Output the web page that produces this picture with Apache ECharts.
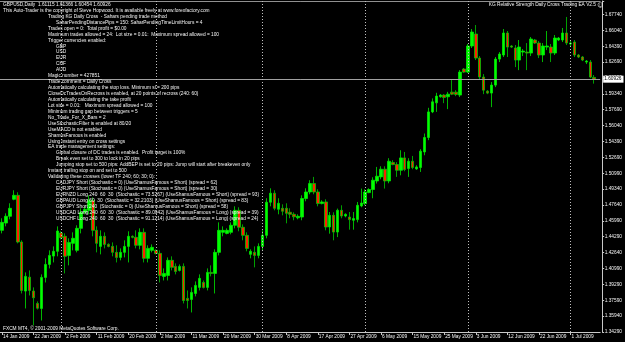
<!DOCTYPE html>
<html><head><meta charset="utf-8">
<script src="https://cdn.jsdelivr.net/npm/echarts/dist/echarts.min.js"></script>
<style>html,body{margin:0;padding:0;background:#000}#c{width:625px;height:342px}</style>
</head><body><div id="c"></div>
<script>
const symbolName = 'GBPUSD,Daily';
const firstBarDate = '2009-01-14';
const opens = [
1.4500,1.4577,1.4648,1.4827,1.4869,1.4377,1.3860,1.4007,1.3860,1.3730,
1.3677,1.4004,1.4141,1.4229,1.4279,1.4472,1.4437,1.4236,1.4363,1.4289,
1.4521,1.4690,1.4711,1.4817,1.4500,1.4331,1.4437,1.4352,1.4331,1.4268,
1.4215,1.4268,1.4331,1.4437,1.4426,1.4342,1.4479,1.4205,1.4289,1.4289,
1.4257,1.4015,1.4025,1.4184,1.4120,1.4078,1.4120,1.3783,1.3772,1.3835,
1.3899,1.3951,1.3899,1.4057,1.4046,1.4268,1.4479,1.4468,1.4479,1.4553,
1.4711,1.4532,1.4447,1.4247,1.4268,1.4236,1.4331,1.4447,1.4796,1.4891,
1.4722,1.4732,1.4732,1.4690,1.4669,1.4632,1.4640,1.4835,1.4904,1.4993,
1.4904,1.4782,1.4799,1.4535,1.4658,1.4482,1.4711,1.4651,1.4640,1.4606,
1.4613,1.4757,1.4782,1.4898,1.4930,1.5020,1.5063,1.5144,1.5020,1.5214,
1.5193,1.5133,1.5263,1.5151,1.5228,1.5147,1.5162,1.5326,1.5478,1.5748,
1.5843,1.5907,1.5925,1.5907,1.5956,1.5956,1.5925,1.6199,1.6167,1.6442,
1.6568,1.6315,1.6115,1.5967,1.5946,1.6030,1.6304,1.6347,1.6579,1.6442,
1.6421,1.6294,1.6378,1.6378,1.6368,1.6505,1.6473,1.6347,1.6431,1.6431,
1.6368,1.6505,1.6505,1.6579,1.6463,1.6484,1.6347,1.6326,1.6273,1.6273,
1.61115];
const closes = [
1.4584,1.4648,1.4732,1.4869,1.4377,1.3867,1.4015,1.3867,1.3790,1.3680,
1.4004,1.4141,1.4236,1.4279,1.4493,1.4423,1.4226,1.4373,1.4416,1.4521,
1.4690,1.4722,1.4817,1.4500,1.4363,1.4437,1.4352,1.4331,1.4268,1.4215,
1.4268,1.4331,1.4437,1.4426,1.4342,1.4479,1.4205,1.4310,1.4321,1.4257,
1.4025,1.4046,1.4184,1.4110,1.4067,1.4120,1.3761,1.3761,1.3846,1.3920,
1.3994,1.3899,1.4057,1.4046,1.4268,1.4500,1.4500,1.4500,1.4553,1.4711,
1.4532,1.4447,1.4310,1.4279,1.4236,1.4331,1.4447,1.4796,1.4891,1.4732,
1.4785,1.4701,1.4679,1.4669,1.4643,1.4648,1.4835,1.4904,1.4993,1.4904,
1.4782,1.4799,1.4535,1.4658,1.4482,1.4711,1.4651,1.4669,1.4613,1.4624,
1.4764,1.4788,1.4904,1.4930,1.5028,1.5070,1.5144,1.5020,1.5228,1.5193,
1.5133,1.5263,1.5141,1.5228,1.5162,1.5168,1.5334,1.5478,1.5748,1.5854,
1.5914,1.5925,1.5900,1.5935,1.5935,1.5932,1.6167,1.6167,1.6442,1.6589,
1.6315,1.6115,1.5977,1.5946,1.6030,1.6304,1.6357,1.6579,1.6431,1.6431,
1.6294,1.6431,1.6389,1.6368,1.6516,1.6473,1.6347,1.6442,1.6442,1.6368,
1.6526,1.6526,1.6579,1.6473,1.6473,1.6347,1.6326,1.6294,1.6283,1.6115,
1.60926];
const lows = [
1.4468,1.4542,1.4616,1.4817,1.4363,1.3835,1.3677,1.3814,1.3498,1.3666,
1.3550,1.3951,1.4099,1.4162,1.4226,1.4405,1.4046,1.4131,1.4289,1.4268,
1.4468,1.4669,1.4669,1.4437,1.4268,1.4247,1.4310,1.4321,1.4226,1.4162,
1.4184,1.4215,1.4162,1.4416,1.4310,1.4300,1.4162,1.4162,1.4268,1.4247,
1.3951,1.3972,1.3972,1.4078,1.4036,1.4067,1.3730,1.3677,1.3635,1.3804,
1.3867,1.3888,1.3867,1.4015,1.3835,1.4236,1.4437,1.4458,1.4458,1.4521,
1.4490,1.4395,1.4279,1.4205,1.4110,1.4205,1.4289,1.4416,1.4753,1.4711,
1.4669,1.4658,1.4574,1.4627,1.4606,1.4616,1.4606,1.4806,1.4880,1.4880,
1.4753,1.4774,1.4500,1.4465,1.4395,1.4429,1.4627,1.4637,1.4507,1.4507,
1.4584,1.4743,1.4764,1.4891,1.4838,1.4993,1.5038,1.4940,1.4996,1.5186,
1.5063,1.5080,1.5123,1.5063,1.5144,1.5138,1.5115,1.5291,1.5450,1.5735,
1.5748,1.5898,1.5840,1.5777,1.5925,1.5914,1.5904,1.6157,1.6157,1.6421,
1.6294,1.6093,1.5935,1.5935,1.5798,1.6009,1.6273,1.6326,1.6326,1.6421,
1.6220,1.6188,1.6336,1.6188,1.6336,1.6463,1.6315,1.6273,1.6399,1.6273,
1.6347,1.6494,1.6484,1.6452,1.6442,1.6326,1.6315,1.6283,1.6252,1.6104,
1.60454];
const highs = [
1.4627,1.4679,1.4785,1.4922,1.4901,1.4395,1.4057,1.4078,1.3899,1.3751,
1.4036,1.4205,1.4289,1.4331,1.4542,1.4490,1.4468,1.4416,1.4479,1.4553,
1.4732,1.4753,1.4869,1.4848,1.4542,1.4500,1.4479,1.4363,1.4373,1.4342,
1.4310,1.4395,1.4490,1.4447,1.4500,1.4521,1.4521,1.4342,1.4352,1.4300,
1.4289,1.4099,1.4215,1.4226,1.4152,1.4141,1.4152,1.3867,1.3899,1.3962,
1.4036,1.3972,1.4099,1.4131,1.4300,1.4584,1.4542,1.4521,1.4584,1.4753,
1.4743,1.4563,1.4479,1.4300,1.4331,1.4363,1.4500,1.4838,1.4943,1.4922,
1.4838,1.4774,1.4785,1.4732,1.4690,1.4669,1.4869,1.4943,1.5028,1.5063,
1.4933,1.4817,1.4827,1.4693,1.4690,1.4729,1.4764,1.4679,1.4693,1.4693,
1.4799,1.4940,1.4933,1.4943,1.5059,1.5168,1.5175,1.5175,1.5260,1.5239,
1.5218,1.5344,1.5326,1.5260,1.5284,1.5186,1.5355,1.5520,1.5791,1.5890,
1.5949,1.5935,1.5935,1.5959,1.6083,1.5977,1.6188,1.6210,1.6463,1.6621,
1.6663,1.6336,1.6146,1.5977,1.6062,1.6326,1.6378,1.6621,1.6600,1.6452,
1.6452,1.6505,1.6410,1.6473,1.6537,1.6516,1.6494,1.6473,1.6600,1.6463,
1.6558,1.6537,1.6632,1.6748,1.6494,1.6505,1.6357,1.6336,1.6294,1.6294,
1.61366];
const priceTickLabels = ['1.34290','1.35940','1.37590','1.39290','1.40990','1.42640','1.44290','1.45990','1.47640','1.49340','1.50990','1.52690','1.54390','1.56040','1.57690','1.59340','1.60990','1.62690','1.64390','1.66040','1.67740'];
const dateTickLabels = ['14 Jan 2009','22 Jan 2009','2 Feb 2009','11 Feb 2009','20 Feb 2009','2 Mar 2009','11 Mar 2009','20 Mar 2009','30 Mar 2009','8 Apr 2009','17 Apr 2009','27 Apr 2009','6 May 2009','15 May 2009','25 May 2009','3 Jun 2009','12 Jun 2009','22 Jun 2009','1 Jul 2009'];
const infoLines = [
 [0, 'This Auto-Trader is the copyright of Steve Hopwood. It is available freely at www.forexfactory.com'],
 [1, 'Trading KG Daily Cross  - Sahars pending trade method'],
 [2, 'SaharPendingDistancePips = 150: SaharPendingTimeLimitHours = 4'],
 [1, 'Trades open = 0:  Total profit = $0.00'],
 [1, 'Maximum trades allowed = 24:  Lot size = 0.01:  Maximum spread allowed = 100'],
 [1, 'Trigger currencies enabled:'],
 [2, 'GBP'], [2, 'USD'], [2, 'EUR'], [2, 'CHF'], [2, 'AUD'],
 [1, 'Magic number = 427851'],
 [1, 'Trade comment = Daily Cross'],
 [1, 'Automatically calculating the stop loss. Minimum sl = 200 pips'],
 [1, 'CloseDcTradesOnRecross is enabled, at 20 points of recross (240: 60)'],
 [1, 'Automatically calculating the take profit'],
 [1, 'Lot size = 0.01:   Maximum spread allowed = 100'],
 [1, 'Minimum trading gap between triggers = 5'],
 [1, 'No_Trade_For_X_Bars = 2'],
 [1, 'UseStochasticFilter is enabled at 80/20'],
 [1, 'UseMACD is not enabled'],
 [1, 'ShamusFamous is enabled'],
 [1, 'Using instant entry on cross settings'],
 [1, 'EA trade management settings:'],
 [2, 'Global closure of DC trades is enabled.  Profit target is 100%'],
 [2, 'Break even set to 300 to lock in 20 pips'],
 [2, 'Jumping stop set to 500 pips: AddBEP is set to 20 pips: Jump will start after breakeven only'],
 [1, 'Instant trailing stop on and set to 500'],
 [1, 'Validating these crosses (lower TF 240; 60; 30; 0):'],
 [2, 'CADJPY Short (Stochastic = 0) (UseShamusFamous = Short) (spread = 62)'],
 [2, 'EURJPY Short (Stochastic = 0) (UseShamusFamous = Short) (spread = 30)'],
 [2, 'EURNZD Long 240  60  30  (Stochastic = 73.5267) (UseShamusFamous = Short) (spread = 93)'],
 [2, 'GBPAUD Long 60  30  (Stochastic = 32.2103) (UseShamusFamous = Short) (spread = 83)'],
 [2, 'GBPJPY Short 240  (Stochastic = 0) (UseShamusFamous = Short) (spread = 58)'],
 [2, 'USDCAD Long 240  60  30  (Stochastic = 89.0942) (UseShamusFamous = Long) (spread = 39)'],
 [2, 'USDCHF Long 240  60  30  (Stochastic = 91.1214) (UseShamusFamous = Long) (spread = 24)']
];
const eaTitle = 'KG Relative Strength Daily Cross Trading EA V2.5';
const copyrightText = 'FXCM MT4, \u00a9 2001-2009 MetaQuotes Software Corp.';

// ---- build ----
const N = opens.length;
const dates = [];
{ const d = new Date(firstBarDate + 'T00:00:00Z');
  while (dates.length < N) { if (d.getUTCDay() !== 6) dates.push(d.toISOString().slice(0, 10)); d.setUTCDate(d.getUTCDate() + 1); } }
const cats = dates.concat(['']);
const candles = opens.map((o, i) => [o, closes[i], lows[i], highs[i]]);
const monthStarts = dates.filter((d, i) => i > 0 && d.slice(5, 7) !== dates[i - 1].slice(5, 7));
const lastO = opens[N - 1], lastH = highs[N - 1], lastL = lows[N - 1], lastC = closes[N - 1];
const p0 = parseFloat(priceTickLabels[0]);
const pStep = (parseFloat(priceTickLabels[priceTickLabels.length - 1]) - p0) / (priceTickLabels.length - 1);
const labelMax = 20.85;

const FONT = '"Liberation Sans", Arial, sans-serif';
const fs = 4.8;
const txtColor = '#f4f4f4';
const axisColor = '#c8c8c8';
const indentX = [3, 48, 56];
const lineH = 5.94;
const graphics = [];
graphics.push({ type: 'text', x: 3, y: 4.6, silent: true, z: 100,
  style: { text: symbolName + '  ' + lastO.toFixed(5) + ' ' + lastH.toFixed(5) + ' ' + lastL.toFixed(5) + ' ' + lastC.toFixed(5),
    fill: txtColor, font: fs + 'px ' + FONT, verticalAlign: 'middle', align: 'left' } });
infoLines.forEach(([lvl, t], n) => {
  graphics.push({ type: 'text', x: indentX[lvl], y: 4.6 + (n + 1) * lineH, silent: true, z: 100,
    style: { text: t, fill: txtColor, font: fs + 'px ' + FONT, verticalAlign: 'middle', align: 'left' } });
});
graphics.push({ type: 'text', x: 596, y: 5, silent: true, z: 100,
  style: { text: eaTitle, fill: txtColor, font: fs + 'px ' + FONT, verticalAlign: 'middle', align: 'right' } });
graphics.push({ type: 'text', x: 600.5, y: 5, silent: true, z: 100,
  style: { text: '\u263A', fill: txtColor, font: '6px "DejaVu Sans"', verticalAlign: 'middle', align: 'center' } });
graphics.push({ type: 'text', x: 3, y: 329, silent: true, z: 100,
  style: { text: copyrightText, fill: txtColor, font: fs + 'px ' + FONT, verticalAlign: 'middle', align: 'left' } });

const chart = echarts.init(document.getElementById('c'), null, { renderer: 'canvas' });
chart.setOption({
  backgroundColor: '#000000',
  animation: false,
  textStyle: { fontFamily: FONT },
  grid: { left: 0, right: 21, top: 1, bottom: 10 },
  xAxis: [{
    type: 'category', data: cats, boundaryGap: true,
    axisLine: { show: true, lineStyle: { color: axisColor, width: 1 } },
    axisTick: { show: true, alignWithLabel: true, length: 3, interval: (i) => i % 8 === 0 && i < N, lineStyle: { color: axisColor } },
    axisLabel: { show: true, interval: (i) => i % 8 === 0 && i < N, formatter: (v, i) => dateTickLabels[i / 8] || '',
      color: txtColor, fontSize: fs, fontFamily: FONT, align: 'left', margin: 2.5, padding: [0, 0, 0, 1] },
    splitLine: { show: false }
  }, {
    type: 'category', data: cats, position: 'top', boundaryGap: true,
    axisLine: { show: true, lineStyle: { color: '#909090', width: 1 } },
    axisTick: { show: false }, axisLabel: { show: false }, splitLine: { show: false }
  }],
  yAxis: [{
    type: 'value', min: p0, max: p0 + labelMax * pStep, show: false, splitLine: { show: false }
  }, {
    type: 'value', position: 'right', min: 0, max: labelMax, interval: 1, offset: 2,
    axisLine: { show: true, lineStyle: { color: axisColor, width: 1 } },
    axisTick: { show: true, length: 2, lineStyle: { color: axisColor } },
    axisLabel: { formatter: (v) => (Math.abs(v - Math.round(v)) < 1e-6 ? (priceTickLabels[Math.round(v)] || '') : ''),
      color: txtColor, fontSize: fs, fontFamily: FONT, margin: 2.5 },
    splitLine: { show: false }
  }],
  series: [{
    type: 'candlestick', xAxisIndex: 0, yAxisIndex: 0,
    data: candles, barWidth: 3,
    itemStyle: { color: '#00ff00', color0: '#ff2200', borderColor: '#00e600', borderColor0: '#00c800', borderWidth: 0.8 },
    markLine: {
      silent: true, symbol: ['none', 'none'], animation: false, precision: 5,
      data: [
        { yAxis: lastC, lineStyle: { color: '#a0a0a0', type: 'solid', width: 1 },
          label: { show: true, position: 'end', formatter: lastC.toFixed(5), backgroundColor: '#ffffff', color: '#000000',
            fontSize: fs, fontFamily: FONT, padding: [1, 2, 1, 1], distance: 3 } }
      ].concat(monthStarts.map(d => ({ xAxis: d, lineStyle: { color: '#c0c0c0', type: [1, 2], width: 1 }, label: { show: false } })))
    }
  }],
  graphic: graphics
});
</script></body></html>
